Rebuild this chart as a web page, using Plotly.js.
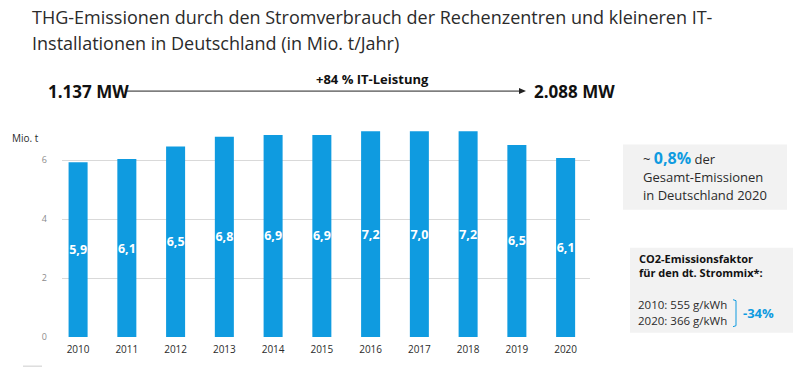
<!DOCTYPE html>
<html>
<head>
<meta charset="utf-8">
<script src="https://cdn.plot.ly/plotly-3.0.1.min.js"></script>
<style>html,body{margin:0;padding:0;background:#fff;}#chart{width:800px;height:369px;}</style>
</head>
<body>
<div id="chart"></div>
<script>
// Data
const years = ["2010","2011","2012","2013","2014","2015","2016","2017","2018","2019","2020"];
const barValues = [5.93, 6.04, 6.47, 6.80, 6.86, 6.86, 6.98, 6.98, 6.98, 6.52, 6.08];
const barLabels = ["5,9","6,1","6,5","6,8","6,9","6,9","7,2","7,0","7,2","6,5","6,1"];
const yTicks = [0, 2, 4, 6];

const W = 800, H = 369;
const L = 62, R = 590, T = 119.4, B = 337.3;
const px = x => (x - L) / (R - L);
const py = y => (B - y) / (B - T);

const FONT = "Open Sans, Lato, sans-serif";
const BLUE = "#0f9be0";
const DARK = "#2b2b2b";

const trace = {
  type: "bar",
  x: years,
  y: barValues,
  text: barLabels,
  textposition: "inside",
  insidetextanchor: "middle",
  constraintext: "none",
  textangle: 0,
  textfont: {family: FONT, size: 12.5, color: "#ffffff", weight: "bold"},
  marker: {color: BLUE},
  width: 0.39,
  hoverinfo: "none"
};

function ann(x, y, text, opts) {
  return Object.assign({
    xref: "paper", yref: "paper", x: px(x), y: py(y), text: text,
    showarrow: false, xanchor: "left", yanchor: "middle",
    font: {family: FONT, size: 12, color: DARK}
  }, opts || {});
}

const annotations = [
  ann(30, 17, "THG-Emissionen durch den Stromverbrauch der Rechenzentren und kleineren IT-", {font: {family: FONT, size: 18, color: DARK}}),
  ann(30, 43, "Installationen in Deutschland (in Mio. t/Jahr)", {font: {family: FONT, size: 18, color: DARK}}),
  ann(46, 92, "<b>1.137 MW</b>", {font: {family: FONT, size: 17, color: "#111"}}),
  ann(532, 92, "<b>2.088 MW</b>", {font: {family: FONT, size: 17, color: "#111"}}),
  ann(372, 79, "<b>+84 % IT-Leistung</b>", {xanchor: "center", font: {family: FONT, size: 13, color: "#111"}}),
  ann(10, 138, "Mio. t", {font: {family: FONT, size: 10, color: DARK}}),
  // box 1
  ann(641, 158, "~ <b><span style='color:" + BLUE + ";font-size:16px'>0,8%</span></b> der", {font: {family: FONT, size: 13, color: DARK}}),
  ann(641, 177, "Gesamt-Emissionen", {font: {family: FONT, size: 13, color: DARK}}),
  ann(641, 195, "in Deutschland 2020", {font: {family: FONT, size: 13, color: DARK}}),
  // box 2
  ann(637, 259, "<b>CO2-Emissionsfaktor</b>", {font: {family: FONT, size: 11, color: "#111"}}),
  ann(637, 273, "<b>für den dt. Strommix*:</b>", {font: {family: FONT, size: 11, color: "#111"}}),
  ann(636, 305, "2010: 555 g/kWh", {font: {family: FONT, size: 11.5, color: DARK}}),
  ann(636, 320.5, "2020: 366 g/kWh", {font: {family: FONT, size: 11.5, color: DARK}}),
  ann(741, 313, "<b>-34%</b>", {font: {family: FONT, size: 13, color: BLUE}})
];

const shapes = [
  // arrow line
  {type: "line", xref: "paper", yref: "paper", x0: px(127), y0: py(91.5), x1: px(520), y1: py(91.5), line: {color: "#222", width: 1}},
  {type: "path", xref: "paper", yref: "paper",
   path: `M ${px(519)} ${py(88.5)} L ${px(526)} ${py(91.5)} L ${px(519)} ${py(94.5)} Z`,
   fillcolor: "#222", line: {color: "#222", width: 0}},
  // boxes
  {type: "rect", xref: "paper", yref: "paper", x0: px(623), x1: px(787), y0: py(145), y1: py(210), fillcolor: "#f2f2f2", line: {width: 0}, layer: "below"},
  {type: "rect", xref: "paper", yref: "paper", x0: px(630), x1: px(793), y0: py(248), y1: py(333), fillcolor: "#f2f2f2", line: {width: 0}, layer: "below"},
  // bracket
  {type: "path", xref: "paper", yref: "paper",
   path: `M ${px(733)} ${py(300)} L ${px(736)} ${py(301)} L ${px(736)} ${py(326)} L ${px(733)} ${py(327)}`,
   line: {color: BLUE, width: 1}},
  // small grey mark bottom-left
  {type: "line", xref: "paper", yref: "paper", x0: px(23), y0: py(366.5), x1: px(42), y1: py(366.5), line: {color: "#dddddd", width: 1.5}}
];

const layout = {
  width: W, height: H,
  margin: {l: L, r: W - R, t: T, b: H - B, pad: 0},
  paper_bgcolor: "#ffffff", plot_bgcolor: "#ffffff",
  showlegend: false,
  bargap: 0.61,
  xaxis: {
    type: "category", range: [-0.33, 10.5], showgrid: false, zeroline: false,
    showline: false, ticks: "", ticklabelstandoff: 5,
    tickfont: {family: FONT, size: 10, color: DARK}
  },
  yaxis: {
    range: [0, 7.4], tickvals: yTicks, ticktext: yTicks.map(String),
    showgrid: true, gridcolor: "#d9d9d9", gridwidth: 1, zeroline: false,
    showline: false, ticks: "", ticklabelstandoff: 14,
    tickfont: {family: FONT, size: 9, color: "#8c8c8c"}
  },
  annotations: annotations,
  shapes: shapes
};

Plotly.newPlot("chart", [trace], layout, {staticPlot: true, displayModeBar: false});
</script>
</body>
</html>
